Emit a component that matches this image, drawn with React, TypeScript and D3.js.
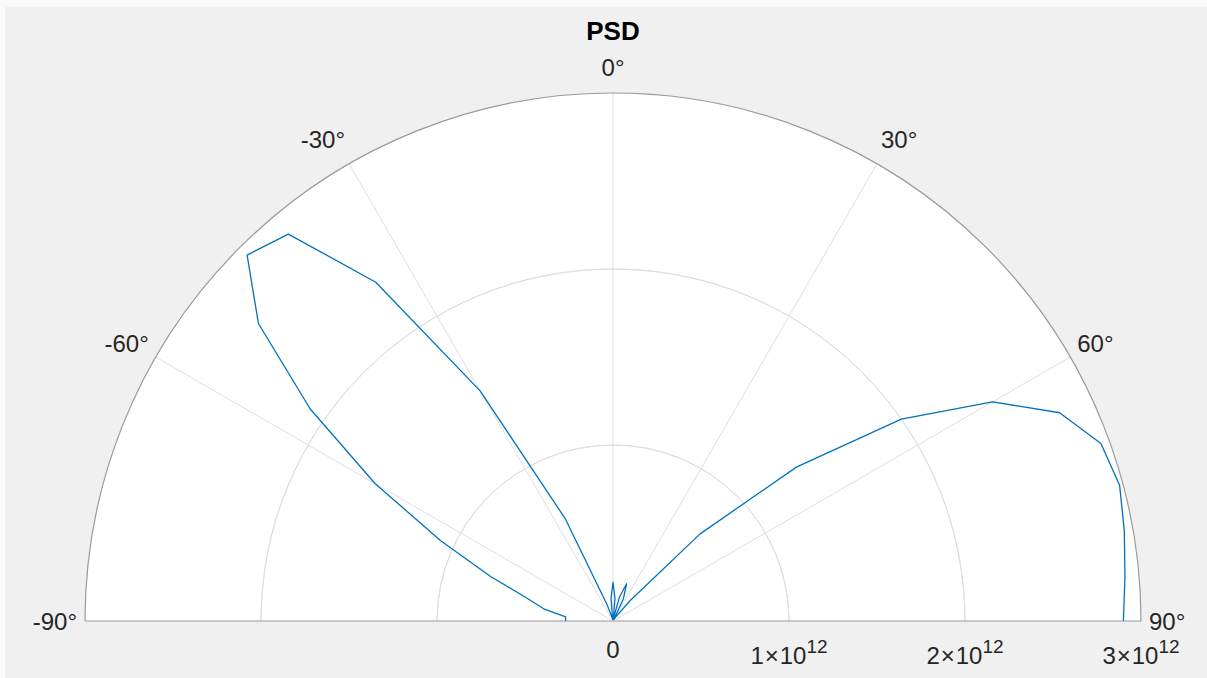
import React from "react";
import * as d3 from "d3";

const thetaDeg: number[] = [
  -90, -85, -80, -75, -70, -65, -60, -55, -50, -45, -40, -35, -30, -25, -20, -15, -10, -5,
  0, 5, 10, 15, 20, 25, 30, 35, 40, 45, 50, 55, 60, 65, 70, 75, 80, 85, 90,
];
// PSD values in units of 1e12
const psd: number[] = [
  0.27, 0.27, 0.4, 0.51, 0.74, 1.08, 1.56, 2.1, 2.63, 2.94, 2.87, 2.35, 1.51, 0.64, 0.1, 0.02, 0.01, 0.13,
  0.22, 0.13, 0.01, 0.14, 0.225, 0.14, 0.01, 0.03, 0.15, 0.7, 1.36, 2.0, 2.49, 2.8, 2.95, 2.98, 2.95, 2.92, 2.9,
];
const thetaTicks: number[] = [-90, -60, -30, 0, 30, 60, 90];
const rTicks: number[] = [0, 1, 2, 3];
const rTickMant: string[] = ["0", "1", "2", "3"];
const title = "PSD";

const W = 1207;
const H = 678;
const cx = 613;
const cy = 621;
const R = 528;

export default function App() {
  const r = d3.scaleLinear().domain([0, 3]).range([0, R]);
  const a = (d: number) => (d * Math.PI) / 180;
  const pts = thetaDeg.map((t, i) => [t, psd[i]] as [number, number]);
  const line = d3
    .lineRadial<[number, number]>()
    .angle((d) => a(d[0]))
    .radius((d) => r(d[1]));
  const arc = d3
    .arc<any>()
    .innerRadius(0)
    .outerRadius((d: any) => d.r)
    .startAngle(-Math.PI / 2)
    .endAngle(Math.PI / 2);
  const ringArc = (rr: number) =>
    d3.arc()({ innerRadius: rr, outerRadius: rr, startAngle: -Math.PI / 2, endAngle: Math.PI / 2 } as any) as string;
  const font = "'Liberation Sans', Arial, Helvetica, sans-serif";
  return (
    <div style={{ position: "fixed", left: 0, top: 0, width: W, height: H }}>
      <svg width={W} height={H} style={{ display: "block" }} fontFamily={font}>
        <rect x={0} y={0} width={W} height={H} fill="#fafafa" />
        <rect x={5} y={7} width={W - 5} height={H - 7} fill="#f0f0f0" />
        <g transform={`translate(${cx},${cy})`}>
          <path d={arc({ r: R }) as string} fill="#ffffff" />
          {rTicks.slice(1, 3).map((t) => (
            <path key={t} d={ringArc(r(t))} fill="none" stroke="#dedede" strokeWidth={1} />
          ))}
          {thetaTicks.slice(1, 6).map((t) => (
            <line
              key={t}
              x1={0}
              y1={0}
              x2={R * Math.sin(a(t))}
              y2={-R * Math.cos(a(t))}
              stroke="#dedede"
              strokeWidth={1}
            />
          ))}
          <path d={ringArc(R)} fill="none" stroke="#9a9a9a" strokeWidth={1.2} />
          <line x1={-R} y1={0} x2={R} y2={0} stroke="#9a9a9a" strokeWidth={1.2} />
          <path d={line(pts) as string} fill="none" stroke="#0072BD" strokeWidth={1.3} strokeLinejoin="round" />
          {thetaTicks.map((t) => {
            const s = Math.sin(a(t));
            const c = Math.cos(a(t));
            const x = 536 * s;
            const y = -556 * c + (t === 0 ? 2 : 0);
            const anchor = t < 0 ? "end" : t > 0 ? "start" : "middle";
            return (
              <text
                key={t}
                x={x}
                y={y}
                textAnchor={anchor}
                dominantBaseline="central"
                fontSize={24}
                fill="#262626"
              >
                {`${t}°`}
              </text>
            );
          })}
          {rTicks.map((t, i) => (
            <text key={t} x={r(t)} y={43} textAnchor="middle" fontSize={24} fill="#262626">
              {t === 0 ? (
                <tspan dy={-6}>{rTickMant[i]}</tspan>
              ) : (
                <>
                  <tspan>{rTickMant[i]}</tspan>
                  <tspan dx={1}>×</tspan>
                  <tspan dx={1}>10</tspan>
                  <tspan dy={-11} fontSize={19}>
                    12
                  </tspan>
                </>
              )}
            </text>
          ))}
        </g>
        <text x={cx} y={40} textAnchor="middle" fontSize={26} fontWeight="bold" fill="#000000">
          {title}
        </text>
      </svg>
    </div>
  );
}
